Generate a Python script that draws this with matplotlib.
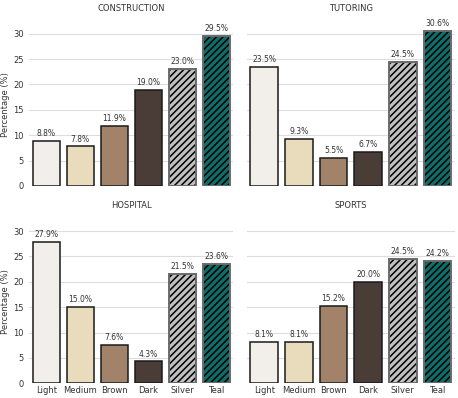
import matplotlib.pyplot as plt
import numpy as np

categories = ['Light', 'Medium', 'Brown', 'Dark', 'Silver', 'Teal']
panels = ['CONSTRUCTION', 'TUTORING', 'HOSPITAL', 'SPORTS']
construction = [8.8, 7.8, 11.9, 19.0, 23.0, 29.5]
tutoring = [23.5, 9.3, 5.5, 6.7, 24.5, 30.6]
hospital = [27.9, 15.0, 7.6, 4.3, 21.5, 23.6]
sports = [8.1, 8.1, 15.2, 20.0, 24.5, 24.2]

colors = ['#f2eee9', '#e8dcbd', '#a3826a', '#4a3c37', '#c0c0c0', '#0e6e69']
hatched = [False, False, False, False, True, True]

plt.rcParams['font.family'] = ['DejaVu Sans']
plt.rcParams['hatch.linewidth'] = 1.1

fig = plt.figure(figsize=(4.58, 3.98), dpi=100)
boxes = [
    [0.064, 0.533, 0.445, 0.409],
    [0.539, 0.533, 0.454, 0.409],
    [0.064, 0.037, 0.445, 0.409],
    [0.539, 0.037, 0.454, 0.409],
]
data = [construction, tutoring, hospital, sports]
x = np.arange(len(categories))

for i, (box, title, vals) in enumerate(zip(boxes, panels, data)):
    ax = fig.add_axes(box)
    for xi, v, c, h in zip(x, vals, colors, hatched):
        if h:
            ax.bar(xi, v, width=0.8, color=c, edgecolor='black', hatch='/////',
                   linewidth=0, zorder=3)
            ax.bar(xi, v, width=0.8, fill=False, edgecolor='#6a6a6a',
                   linewidth=1.4, zorder=4)
        else:
            ax.bar(xi, v, width=0.8, color=c, edgecolor='#1a1a1a',
                   linewidth=1.1, zorder=3)
        ax.annotate(f'{v:.1f}%', (xi, v), xytext=(0, 2), textcoords='offset points',
                    ha='center', va='bottom', fontsize=5.5, color='#333333')
    ax.set_xlim(-0.5, 5.5)
    ax.set_ylim(0, 32.1)
    ax.set_yticks([0, 5, 10, 15, 20, 25, 30])
    ax.grid(axis='y', color='#dddddd', linewidth=0.8, zorder=0)
    ax.set_axisbelow(True)
    for s in ax.spines.values():
        s.set_visible(False)
    ax.tick_params(length=0, labelsize=6, colors='#333333')
    ax.tick_params(axis='y', pad=4)
    ax.tick_params(axis='x', pad=2)
    ax.set_title(title, fontsize=6, color='#333333', pad=9)
    ax.set_xticks(x)
    if i >= 2:
        ax.set_xticklabels(categories)
    else:
        ax.set_xticklabels([])
    if i % 2 == 0:
        ax.set_ylabel('Percentage (%)', fontsize=6, color='#333333', labelpad=2)
    else:
        ax.set_yticklabels([])

fig.savefig('out.png', dpi=100)
